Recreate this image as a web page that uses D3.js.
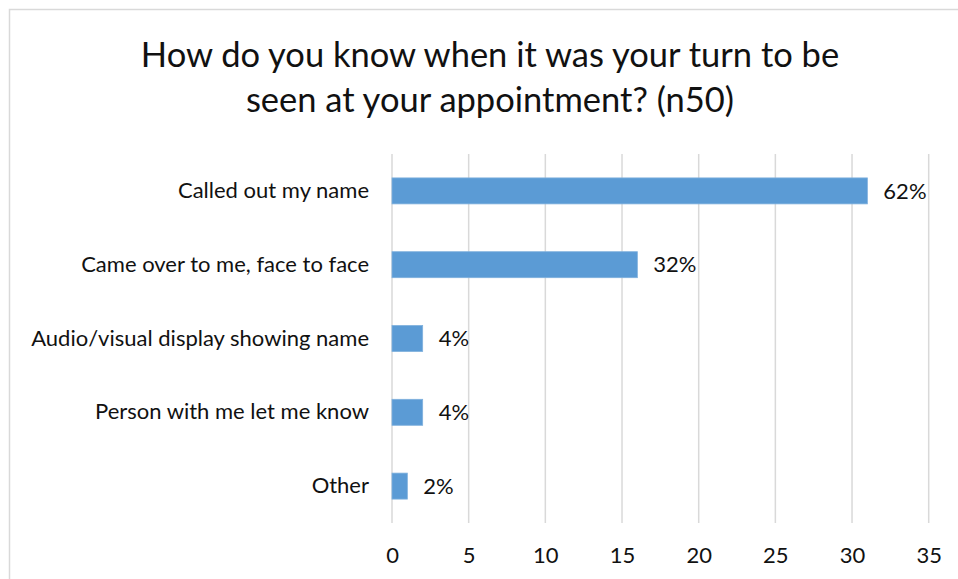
<!DOCTYPE html>
<html>
<head>
<meta charset="utf-8">
<script src="https://cdn.jsdelivr.net/npm/d3@7"></script>
<style>
  html, body { margin: 0; padding: 0; background: #fff; }
  svg { display: block; }
  text { font-family: Lato, "Open Sans", sans-serif; }
</style>
</head>
<body>
<svg id="chart" width="958" height="579"></svg>
<script>
// Survey responses (n = 50)
const categories = [
  "Called out my name",
  "Came over to me, face to face",
  "Audio/visual display showing name",
  "Person with me let me know",
  "Other"
];
const counts = [31, 16, 2, 2, 1];
const percentLabels = ["62%", "32%", "4%", "4%", "2%"];
const xTicks = [0, 5, 10, 15, 20, 25, 30, 35];
const titleLines = [
  "How do you know when it was your turn to be",
  "seen at your appointment? (n50)"
];

const svg = d3.select("#chart");
const W = 958, H = 579;

// chart frame
svg.append("rect")
  .attr("x", 9.5).attr("y", 9.5)
  .attr("width", W + 20).attr("height", H + 20)
  .attr("fill", "#fff")
  .attr("stroke", "#d9d9d9").attr("stroke-width", 1.5);

// title
svg.append("g").selectAll("text")
  .data(titleLines)
  .join("text")
  .attr("x", 490)
  .attr("y", (d, i) => 67 + i * 45)
  .attr("text-anchor", "middle")
  .attr("font-size", 34.5)
  .attr("fill", "#111")
  .text(d => d);

const plot = { left: 392, right: 928.7, top: 154, bottom: 523 };

const x = d3.scaleLinear()
  .domain([0, 35])
  .range([plot.left, plot.right]);

const y = d3.scaleBand()
  .domain(categories)
  .range([plot.top, plot.bottom])
  .paddingInner(0.648)
  .paddingOuter(0.324);

// vertical gridlines
svg.append("g").selectAll("line")
  .data(xTicks)
  .join("line")
  .attr("x1", d => x(d)).attr("x2", d => x(d))
  .attr("y1", plot.top).attr("y2", plot.bottom)
  .attr("stroke", "#d9d9d9").attr("stroke-width", 1.5);

// x axis labels
const xAxis = d3.axisBottom(x).tickValues(xTicks).tickSize(0).tickPadding(0);
const xg = svg.append("g")
  .attr("transform", `translate(0,${plot.bottom})`)
  .call(xAxis);
xg.select(".domain").remove();
xg.selectAll("text")
  .attr("y", 32)
  .attr("dy", "0.35em")
  .attr("font-size", 22)
  .attr("font-family", "Lato, sans-serif")
  .attr("fill", "#111");

// category labels
const yAxis = d3.axisLeft(y).tickSize(0).tickPadding(23);
const yg = svg.append("g")
  .attr("transform", `translate(${plot.left},0)`)
  .call(yAxis);
yg.select(".domain").remove();
yg.selectAll("text")
  .attr("font-size", 22)
  .attr("font-family", "Lato, sans-serif")
  .attr("fill", "#111");

const rows = categories.map((c, i) => ({ c, v: counts[i], label: percentLabels[i] }));

// bars
svg.append("g").selectAll("rect")
  .data(rows)
  .join("rect")
  .attr("x", x(0))
  .attr("y", d => y(d.c))
  .attr("width", d => x(d.v) - x(0))
  .attr("height", y.bandwidth())
  .attr("fill", "#5b9bd5")
  .attr("stroke", "#7fb0dd")
  .attr("stroke-width", 0.8);

// value labels
svg.append("g").selectAll("text")
  .data(rows)
  .join("text")
  .attr("x", d => x(d.v) + 16)
  .attr("y", d => y(d.c) + y.bandwidth() / 2)
  .attr("dy", "0.35em")
  .attr("font-size", 22)
  .attr("fill", "#111")
  .text(d => d.label);
</script>
</body>
</html>
